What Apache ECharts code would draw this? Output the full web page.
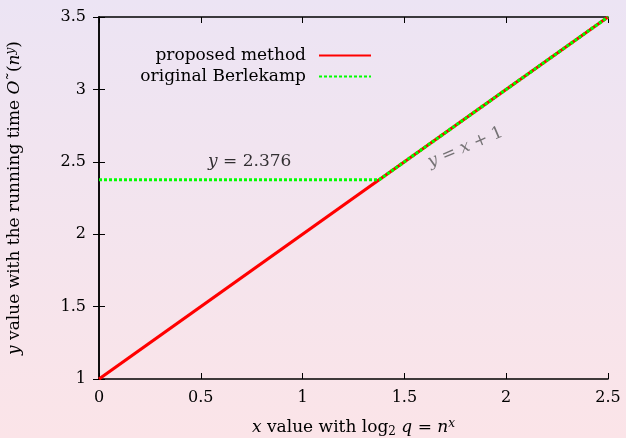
<!DOCTYPE html>
<html><head><meta charset="utf-8">
<script src="https://cdn.jsdelivr.net/npm/echarts@6/dist/echarts.min.js"></script>
<style>html,body{margin:0;padding:0;}#c{width:626px;height:438px;background:linear-gradient(to bottom,#ece4f4,#fbe4e8);}</style>
</head><body><div id="c"></div>
<script>
const proposedX = [0, 2.5];
const proposedY = [1, 3.5];
const berlekampX = [0, 1.376, 2.5];
const berlekampY = [2.376, 2.376, 3.5];
const xTicks = [0, 0.5, 1, 1.5, 2, 2.5];
const yTicks = [1, 1.5, 2, 2.5, 3, 3.5];
const annotations = [
  {x: 0.74, y: 2.5, text: '{i|y}{n| = 2.376}', rotate: 0, color: '#000'},
  {x: 1.8, y: 2.6, text: '{i|y}{n| = }{i|x}{n| + 1}', rotate: 23, color: '#555'}
];

const FONT = 'DejaVu Serif';
const FS = 16;
const chart = echarts.init(document.getElementById('c'), null, {renderer: 'canvas'});
const axisCommon = {
  type: 'value', splitLine: {show: false},
  axisLine: {show: true, lineStyle: {color: '#000', width: 1.5}},
  axisTick: {show: true, inside: true, length: 6, lineStyle: {color: '#000', width: 1}},
};
const richText = {
  i: {fontStyle: 'italic', fontFamily: FONT, fontSize: 17, color: '#000'},
  n: {fontFamily: FONT, fontSize: 17, color: '#000'},
  sup: {fontStyle: 'italic', fontFamily: FONT, fontSize: 12, color: '#000', padding: [0,0,8,0]},
  sub: {fontFamily: FONT, fontSize: 12, color: '#000', padding: [8,0,0,0]}
};
const toPairs = (xs, ys) => xs.map((x, i) => [x, ys[i]]);
const legendCommon = {right: 249, align: 'right', itemWidth: 52, itemHeight: 10, itemGap: 10,
  itemStyle: {opacity: 0}, textStyle: {fontFamily: FONT, fontSize: 17, color: '#000', padding: [0, 8, 0, 0]}};
chart.setOption({
  animation: false,
  grid: {left: 99, right: 18, top: 17, bottom: 59, outerBoundsMode: 'none', containLabel: false},
  legend: [
    Object.assign({data: ['proposed method'], top: 42}, legendCommon),
    Object.assign({data: ['original Berlekamp'], top: 63}, legendCommon)
  ],
  xAxis: [
    Object.assign({}, axisCommon, {min: 0, max: 2.5, interval: 0.5,
      axisLabel: {fontFamily: FONT, fontSize: FS, color: '#000', margin: 11, formatter: v => String(v)},
      name: '{i|x}{n| value with log}{sub|2}{i| q}{n| = }{i|n}{sup|x}', nameLocation: 'middle', nameGap: 39,
      nameTextStyle: {rich: richText}}),
    Object.assign({}, axisCommon, {min: 0, max: 2.5, interval: 0.5, position: 'top', axisLabel: {show: false}})
  ],
  yAxis: [
    Object.assign({}, axisCommon, {min: 1, max: 3.5, interval: 0.5,
      axisLabel: {fontFamily: FONT, fontSize: FS, color: '#000', margin: 13, formatter: v => String(v)},
      name: '{i|y}{n| value with the running time }{i|O}{n|˜(}{i|n}{sup|y}{n|)}', nameLocation: 'middle', nameGap: 74, nameRotate: 90,
      nameTextStyle: {rich: richText}}),
    Object.assign({}, axisCommon, {min: 1, max: 3.5, interval: 0.5, position: 'right', axisLabel: {show: false}})
  ],
  series: [
    {name: 'proposed method', type: 'line', data: toPairs(proposedX, proposedY), symbol: 'none',
     lineStyle: {color: '#ff0000', width: 3.2}, itemStyle: {color: '#ff0000'}},
    {name: 'original Berlekamp', type: 'line', data: toPairs(berlekampX, berlekampY), symbol: 'none',
     lineStyle: {color: '#00ff00', width: 3.2, type: [3, 2], cap: 'butt'}, itemStyle: {color: '#00ff00'}},
    {name: 'annot', type: 'scatter', symbolSize: 0, silent: true,
     data: annotations.map(a => ({value: [a.x, a.y], label: {show: true, formatter: a.text, rotate: a.rotate,
       rich: {
         i: {fontStyle: 'italic', fontFamily: FONT, fontSize: 17, color: a.color},
         n: {fontFamily: FONT, fontSize: 17, color: a.color}
       }}})),
     label: {show: true, position: 'inside'}}
  ]
});
</script></body></html>
